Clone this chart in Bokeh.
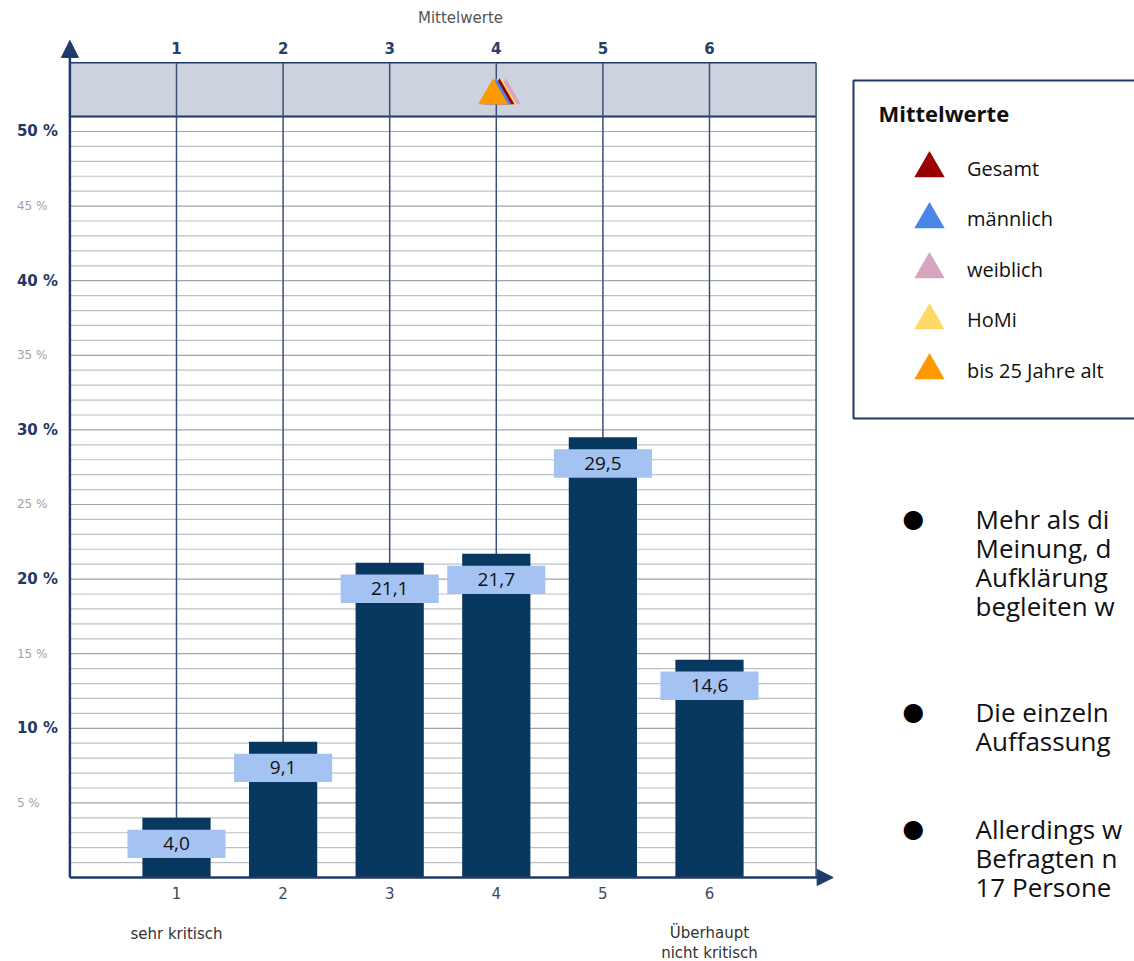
from bokeh.plotting import figure
from bokeh.models import (Range1d, Legend, LegendItem, Label, Arrow, NormalHead,
                          BoxAnnotation)
from bokeh.core.properties import value
from bokeh.embed import file_html
from bokeh.resources import INLINE

# ---------------- data ----------------
categories = [1, 2, 3, 4, 5, 6]
percentages = [4.0, 9.1, 21.1, 21.7, 29.5, 14.6]
value_labels = ["4,0", "9,1", "21,1", "21,7", "29,5", "14,6"]
x_tick_labels = ["1", "2", "3", "4", "5", "6"]
y_ticks_major = [10, 20, 30, 40, 50]
y_ticks_minor = [5, 15, 25, 35, 45]
y_major_labels = ["10 %", "20 %", "30 %", "40 %", "50 %"]
y_minor_labels = ["5 %", "15 %", "25 %", "35 %", "45 %"]
grid_levels = list(range(1, 52))

# group means (drawn back to front)
group_names = ["weiblich", "HoMi", "Gesamt", "männlich", "bis 25 Jahre alt"]
group_means = [4.09, 4.05, 4.03, 4.00, 3.97]
group_colors = ["#d5a6bd", "#ffd966", "#990000", "#4a86e8", "#ff9900"]
legend_order = ["Gesamt", "männlich", "weiblich", "HoMi", "bis 25 Jahre alt"]

bullet_blocks = [
    ["Mehr als di", "Meinung, d", "Aufklärung", "begleiten w"],
    ["Die einzeln", "Auffassung"],
    ["Allerdings w", "Befragten n", "17 Persone"],
]

# ---------------- styles / layout ----------------
NAVY = "#1f3a68"
BAR = "#083760"
BOX = "#a4c2f2"
W, H = 1134, 961
band_bottom, band_top = 51, 54.6
mean_level = 52.4
x_end = len(categories) + 1

p = figure(width=W, height=H,
           x_range=Range1d(-0.651, 9.987), y_range=Range1d(-5.63, 58.78),
           x_axis_type=None, y_axis_type=None,
           toolbar_location=None, output_backend="svg", min_border=0)
p.outline_line_color = None
p.background_fill_color = "white"
p.border_fill_color = "white"

# band for means
p.quad(left=0, right=x_end, bottom=band_bottom, top=band_top,
       fill_color="#cdd3de", line_color=None)

# horizontal grid lines
grid_colors = ["#9ea4b0" if g % 5 == 0 else "#bcc0c6" for g in grid_levels]
p.segment(x0=0, x1=x_end, y0=grid_levels, y1=grid_levels,
          line_color=grid_colors, line_width=1.2)

# band borders
p.segment(x0=0, x1=x_end, y0=band_top, y1=band_top, line_color=NAVY, line_width=1.5)
p.segment(x0=0, x1=x_end, y0=band_bottom, y1=band_bottom, line_color=NAVY, line_width=2)

# vertical category lines
vx = categories + [x_end]
p.segment(x0=vx, x1=vx, y0=0, y1=band_top, line_color="#3d4f78", line_width=1.5)

# bars
p.vbar(x=categories, top=percentages, width=0.64, fill_color=BAR, line_color=None)

# value boxes
box_y = [v - 1.75 for v in percentages]
p.rect(x=categories, y=box_y, width=0.92, height=1.9, fill_color=BOX, line_color=None)
p.text(x=categories, y=box_y, text=value_labels, text_align="center",
       text_baseline="middle", text_font=value("Open Sans"),
       text_font_size="19px", text_color="#111111")

# axes with arrows
p.add_layout(Arrow(x_start=0, y_start=0, x_end=0, y_end=56.1, line_color=NAVY,
                   line_width=2.5,
                   end=NormalHead(size=17, fill_color=NAVY, line_color=NAVY)))
p.add_layout(Arrow(x_start=0, y_start=0, x_end=7.16, y_end=0, line_color=NAVY,
                   line_width=2.5,
                   end=NormalHead(size=16, fill_color=NAVY, line_color=NAVY)))

# tick labels
p.text(x=categories, y=band_top, text=x_tick_labels, y_offset=-15,
       text_align="center", text_baseline="middle", text_font=value("DejaVu Sans"),
       text_font_size="15px", text_font_style="bold", text_color="#26406a")
p.text(x=categories, y=0, text=x_tick_labels, y_offset=15,
       text_align="center", text_baseline="middle", text_font=value("DejaVu Sans"),
       text_font_size="15px", text_color="#3a4a66")
p.text(x=0, y=y_ticks_major, text=y_major_labels, x_offset=-53,
       text_align="left", text_baseline="middle", text_font=value("DejaVu Sans"),
       text_font_size="15px", text_font_style="bold", text_color="#1f3864")
p.text(x=0, y=y_ticks_minor, text=y_minor_labels, x_offset=-53,
       text_align="left", text_baseline="middle", text_font=value("DejaVu Sans"),
       text_font_size="12px", text_color="#a0a2a8")

# axis end texts
p.text(x=categories[0], y=0, text=["sehr kritisch"], y_offset=56,
       text_align="center", text_baseline="middle", text_font=value("DejaVu Sans"),
       text_font_size="15px", text_color="#333333")
p.text(x=categories[-1], y=0, text=["Überhaupt"], y_offset=55,
       text_align="center", text_baseline="middle", text_font=value("DejaVu Sans"),
       text_font_size="15px", text_color="#333333")
p.text(x=categories[-1], y=0, text=["nicht kritisch"], y_offset=75,
       text_align="center", text_baseline="middle", text_font=value("DejaVu Sans"),
       text_font_size="15px", text_color="#333333")

p.add_layout(Label(x=460, y=H - 17, x_units="screen", y_units="screen",
                   text="Mittelwerte", text_align="center", text_baseline="middle",
                   text_font="DejaVu Sans", text_font_size="15px",
                   text_color="#555555"))

# mean markers
rends = {}
for name, m, c in zip(group_names, group_means, group_colors):
    rends[name] = p.scatter(x=[m], y=[mean_level], marker="triangle", size=30,
                            fill_color=c, line_color=None)

# legend frame + title
p.add_layout(BoxAnnotation(left=853, right=1160, top=H - 80, bottom=H - 418,
                           left_units="screen", right_units="screen",
                           top_units="screen", bottom_units="screen",
                           fill_color="white", fill_alpha=1,
                           line_color="#1f3864", line_alpha=1, line_width=2))
p.add_layout(Label(x=878, y=H - 112, x_units="screen", y_units="screen",
                   text="Mittelwerte", text_align="left", text_baseline="middle",
                   text_font="Open Sans", text_font_style="bold",
                   text_font_size="22px", text_color="#111111"))

row_first, row_pitch = 168, 50.5
for i, name in enumerate(legend_order):
    cy = row_first + row_pitch * i
    lg = Legend(items=[LegendItem(label=name, renderers=[rends[name]])],
                location=(891, H - (cy + 38)),
                label_text_font="Open Sans", label_text_font_size="20px",
                label_text_color="#111111",
                padding=0, margin=0, glyph_width=76, glyph_height=76,
                label_standoff=0, border_line_color=None,
                background_fill_alpha=0)
    p.add_layout(lg)

# bullet text
line_pitch = 29.3
block_centers = [520, 713, 830]
for cy, lines in zip(block_centers, bullet_blocks):
    p.add_layout(Label(x=913, y=H - (cy - 2), x_units="screen", y_units="screen",
                       text="●", text_align="center", text_baseline="middle",
                       text_font="DejaVu Sans", text_font_size="25px",
                       text_color="#000000"))
    for i, t in enumerate(lines):
        p.add_layout(Label(x=975, y=H - (cy - 2 + i * line_pitch), x_units="screen",
                           y_units="screen", text=t, text_align="left",
                           text_baseline="alphabetic", text_font="Open Sans",
                           text_font_size="26px", text_color="#111111"))

open("out.html", "w").write(file_html(p, INLINE))
